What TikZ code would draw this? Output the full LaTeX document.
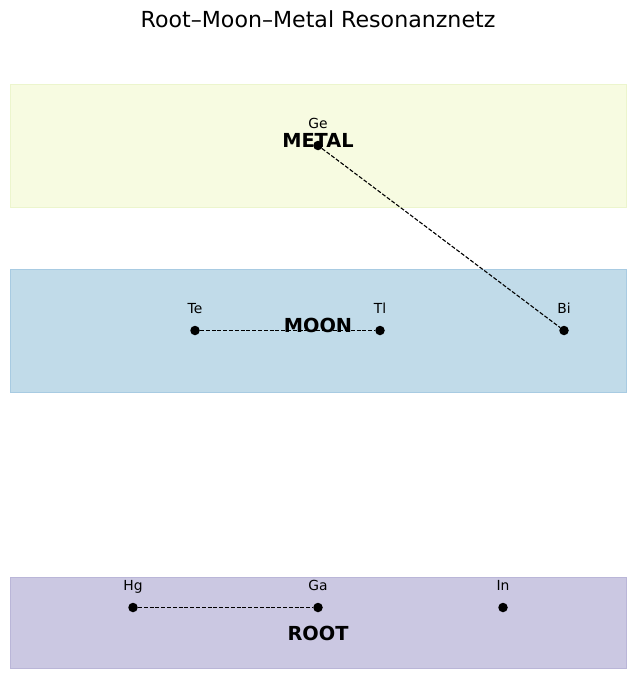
\documentclass[tikz,border=0pt]{standalone}
\usepackage{fontspec}
\setmainfont{DejaVu Sans}
\usetikzlibrary{positioning}

\definecolor{metalfill}{RGB}{247,251,225}
\definecolor{metalline}{RGB}{236,245,205}
\definecolor{moonfill}{RGB}{193,219,233}
\definecolor{moonline}{RGB}{168,203,226}
\definecolor{rootfill}{RGB}{203,200,226}
\definecolor{rootline}{RGB}{186,182,216}

\begin{document}
\begin{tikzpicture}[
    x=1bp, y=-1bp,
    band/.style={minimum width=616bp, inner sep=0pt, line width=0.8bp},
    bandlbl/.style={font=\fontsize{19.4}{22}\selectfont\bfseries, anchor=base},
    elem/.style={circle, fill=black, inner sep=0pt, minimum size=9.5bp},
    elemlbl/.style={font=\fontsize{13.9}{16}\selectfont, anchor=base},
    link/.style={line width=1.1bp, dash pattern=on 4bp off 1.8bp},
    ttl/.style={font=\fontsize{22.2}{26}\selectfont, anchor=base},
]
\useasboundingbox (0,0) rectangle (636,679);
% ============================================================
% title
% ============================================================
\node[ttl] (title) at (318,27.5) {Root–Moon–Metal Resonanznetz};
% ============================================================
% layers
% ============================================================
\node[band, minimum height=123bp, fill=metalfill, draw=metalline] (metal) at (318,145.5) {};
\node[band, minimum height=123bp, fill=moonfill, draw=moonline] (moon) at (318,330.5) {};
\node[band, minimum height=91bp, fill=rootfill, draw=rootline] (root) at (318,622.5) {};
% --- elements on each layer ---
\foreach \name/\x/\y in {Ge/318/145.5, Te/195/330.5, Tl/380/330.5, Bi/564/330.5,
                         Hg/133/607.5, Ga/318/607.5, In/503/607.5} {
    \node[elem] (\name) at (\x,\y) {};
    \node[elemlbl] (\name-lbl) at (\x,\y-17) {\name};
}
% --- layer names ---
\node[bandlbl] (metal-lbl) at (318,147.5) {METAL};
\node[bandlbl] (moon-lbl) at (318,332.5) {MOON};
\node[bandlbl] (root-lbl) at (318,640.5) {ROOT};
% ============================================================
% resonances
% ============================================================
\draw[link] (Ge) -- (Bi);
\draw[link] (Te) -- (Tl);
\draw[link] (Hg) -- (Ga);
\end{tikzpicture}
\end{document}
